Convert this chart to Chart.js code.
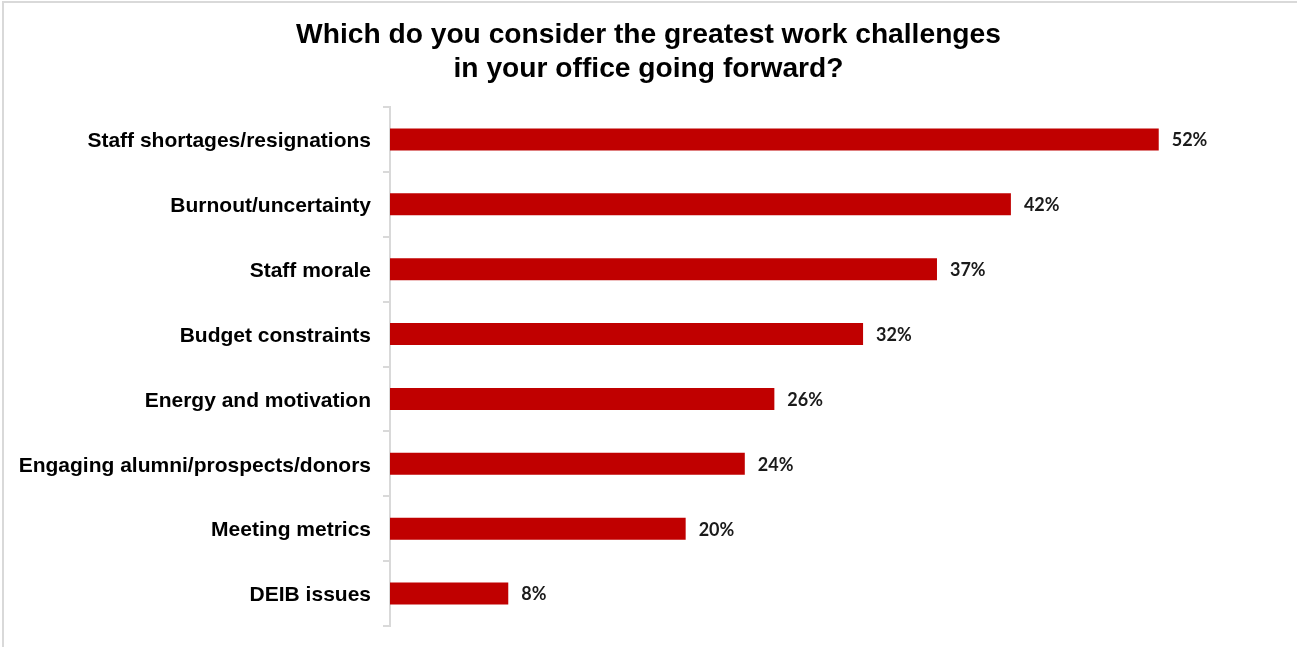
<!DOCTYPE html>
<html>
<head>
<meta charset="utf-8">
<script src="https://cdn.jsdelivr.net/npm/chart.js@4.4.1/dist/chart.umd.min.js"></script>
<style>
  html, body { margin: 0; padding: 0; background: #fff; }
  #wrap { width: 1297px; height: 647px; position: relative; }
</style>
</head>
<body>
<div id="wrap"><canvas id="chart" width="1297" height="647"></canvas></div>
<script>
// Survey answers, in display order (top to bottom)
const categories = [
  'Staff shortages/resignations',
  'Burnout/uncertainty',
  'Staff morale',
  'Budget constraints',
  'Energy and motivation',
  'Engaging alumni/prospects/donors',
  'Meeting metrics',
  'DEIB issues'
];
// Share of respondents, percent
const shares = [52, 42, 37, 32, 26, 24, 20, 8];
const titleLines = [
  'Which do you consider the greatest work challenges',
  'in your office going forward?'
];

const ARIAL = '"Liberation Sans", Arial, sans-serif';
const LIGHT_GREY = '#d9d9d9';

// Thin frame along the top and left edges of the figure
const framePlugin = {
  id: 'frame',
  beforeDraw(chart) {
    const ctx = chart.ctx;
    ctx.save();
    ctx.fillStyle = '#fff';
    ctx.fillRect(0, 0, chart.width, chart.height);
    ctx.fillStyle = LIGHT_GREY;
    ctx.fillRect(2, 1, chart.width - 2, 2);
    ctx.fillRect(2, 1, 2, chart.height - 1);
    ctx.restore();
  }
};

// Category names, right-aligned left of the axis, centred on each bar's text line
const categoryLabelPlugin = {
  id: 'categoryLabels',
  afterDraw(chart) {
    const ctx = chart.ctx;
    const yScale = chart.scales.y;
    ctx.save();
    ctx.font = 'bold 21px ' + ARIAL;
    ctx.fillStyle = '#000';
    ctx.textAlign = 'right';
    ctx.textBaseline = 'middle';
    categories.forEach((name, i) => {
      ctx.fillText(name, chart.chartArea.left - 19, yScale.getPixelForTick(i) + 2);
    });
    ctx.restore();
  }
};

// Percent labels just past the end of each bar
const valueLabelPlugin = {
  id: 'valueLabels',
  afterDatasetsDraw(chart) {
    const ctx = chart.ctx;
    const meta = chart.getDatasetMeta(0);
    ctx.save();
    ctx.font = 'bold 18px Lato, "Open Sans", sans-serif';
    ctx.fillStyle = '#1a1a1a';
    ctx.textAlign = 'left';
    ctx.textBaseline = 'middle';
    meta.data.forEach((bar, i) => {
      ctx.fillText(shares[i] + '%', bar.x + 13, bar.y + 1);
    });
    ctx.restore();
  }
};

new Chart(document.getElementById('chart'), {
  type: 'bar',
  data: {
    labels: categories,
    datasets: [{
      data: shares,
      backgroundColor: '#c00000',
      borderWidth: 0,
      categoryPercentage: 1,
      barPercentage: 0.34
    }]
  },
  options: {
    indexAxis: 'y',
    responsive: false,
    animation: false,
    layout: { padding: { left: 20, right: 20, top: 0, bottom: 21 } },
    plugins: {
      legend: { display: false },
      tooltip: { enabled: false },
      title: {
        display: true,
        text: titleLines,
        color: '#000',
        font: { family: ARIAL, size: 28.2, weight: 'bold', lineHeight: 1.206 },
        padding: { top: 18, bottom: 21 }
      }
    },
    scales: {
      x: {
        display: false,
        min: 0,
        max: 60
      },
      y: {
        afterFit(scale) {
          // fixed label column; no overflow margin above or below the bars
          scale.width = 370;
          scale.paddingTop = 0;
          scale.paddingBottom = 0;
        },
        grid: {
          offset: true,
          drawOnChartArea: false,
          drawTicks: true,
          tickLength: 7,
          color: LIGHT_GREY,
          lineWidth: 2
        },
        border: { display: true, color: LIGHT_GREY, width: 2 },
        ticks: { display: false }
      }
    }
  },
  plugins: [framePlugin, categoryLabelPlugin, valueLabelPlugin]
});
</script>
</body>
</html>
